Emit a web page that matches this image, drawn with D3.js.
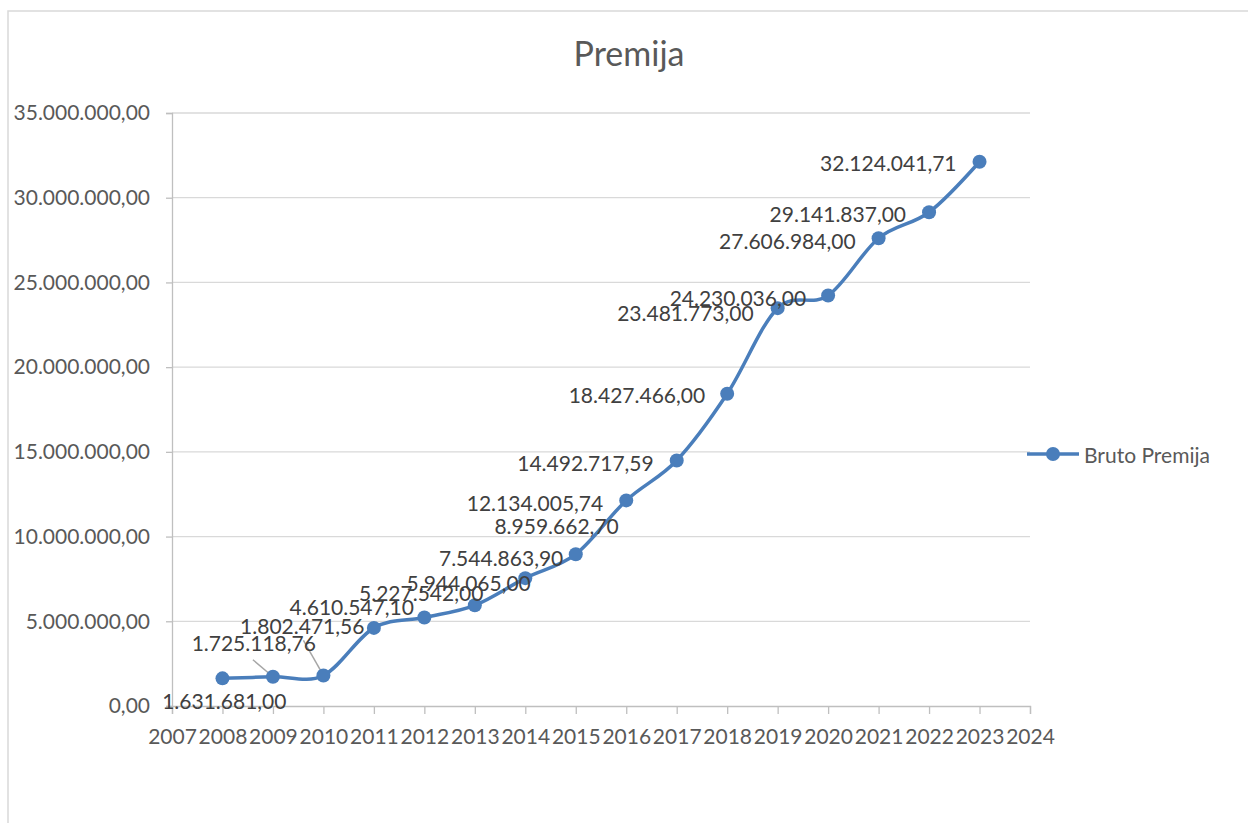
<!DOCTYPE html>
<html>
<head>
<meta charset="utf-8">
<script src="https://cdn.jsdelivr.net/npm/d3@7"></script>
<style>
  body { margin: 0; background: #fff; }
  text { font-family: Lato, "Open Sans", sans-serif; }
</style>
</head>
<body>
<div id="chart"></div>
<script>
// data
const years = [2008, 2009, 2010, 2011, 2012, 2013, 2014, 2015, 2016, 2017, 2018, 2019, 2020, 2021, 2022, 2023];
const premija = [1631681.00, 1725118.76, 1802471.56, 4610547.10, 5227542.00, 5944065.00, 7544863.90, 8959662.70,
  12134005.74, 14492717.59, 18427466.00, 23481773.00, 24230036.00, 27606984.00, 29141837.00, 32124041.71];
const yTicks = [0, 5000000, 10000000, 15000000, 20000000, 25000000, 30000000, 35000000];
const xTicks = d3.range(2007, 2025);
const seriesName = "Bruto Premija";
const title = "Premija";

// label placement (pixel offsets of the label's right end from its point)
const labelOffsets = [
  [64, 22], [43, -34], [41, -50], [40, -21], [59, -25], [56, -23], [38, -21], [43, -29],
  [-23, 2], [-23, 2], [-22, 1], [-24, 4], [-22, 2], [-23, 2], [-23, 1], [-23, 1]
];
// leader lines (start offset from point) for the two displaced labels
const leaders = { 1: [-20, -17], 2: [-20, -35] };

const W = 1248, H = 823;
const margin = { top: 113, right: 218, bottom: 117, left: 172 };
const width = W - margin.left - margin.right,
  height = H - margin.top - margin.bottom;
const blue = "#4a7ebb";
const fs = 21;

const fmt = (v) => {
  const s = v.toFixed(2).split(".");
  return s[0].replace(/\B(?=(\d{3})+(?!\d))/g, ".") + "," + s[1];
};

const svg = d3.select("#chart").append("svg")
  .attr("width", W).attr("height", H);

// chart frame
svg.append("path")
  .attr("d", `M8,823 L8,11 L1250,11`)
  .attr("fill", "none").attr("stroke", "#d9d9d9").attr("stroke-width", 1.5);

svg.append("text")
  .attr("x", 629).attr("y", 66)
  .attr("text-anchor", "middle")
  .attr("font-size", 34).attr("fill", "#595959")
  .text(title);

const g = svg.append("g").attr("transform", `translate(${margin.left},${margin.top})`);

const x = d3.scaleLinear().domain([2007, 2024]).range([0, width]);
const y = d3.scaleLinear().domain([0, 35000000]).range([height, 0]);

// gridlines
g.append("g").selectAll("line").data(yTicks.slice(1)).join("line")
  .attr("x1", 0).attr("x2", width)
  .attr("y1", (d) => y(d)).attr("y2", (d) => y(d))
  .attr("stroke", "#d9d9d9").attr("stroke-width", 1.3);

// y axis
const yAxis = g.append("g")
  .call(d3.axisLeft(y).tickValues(yTicks).tickSize(6).tickPadding(16).tickFormat(fmt));
yAxis.select(".domain").attr("stroke", "#bfbfbf").attr("stroke-width", 1.3);
yAxis.selectAll(".tick line").attr("stroke", "#bfbfbf").attr("stroke-width", 1.3);
yAxis.selectAll("text").attr("font-size", fs).attr("fill", "#595959")
  .attr("font-family", "Lato, sans-serif");

// x axis
const xAxis = g.append("g").attr("transform", `translate(0,${height})`)
  .call(d3.axisBottom(x).tickValues(xTicks).tickSize(8).tickPadding(15).tickFormat(d3.format("d")));
xAxis.select(".domain").attr("stroke", "#bfbfbf").attr("stroke-width", 1.3);
xAxis.selectAll(".tick line").attr("stroke", "#bfbfbf").attr("stroke-width", 1.3);
xAxis.selectAll("text").attr("font-size", fs).attr("fill", "#595959")
  .attr("font-family", "Lato, sans-serif");

const pts = years.map((yr, i) => ({ year: yr, value: premija[i], i }));

// smoothed line
g.append("path").datum(pts)
  .attr("fill", "none").attr("stroke", blue).attr("stroke-width", 3.5)
  .attr("stroke-linejoin", "round")
  .attr("d", d3.line().x((d) => x(d.year)).y((d) => y(d.value)).curve(d3.curveCatmullRom.alpha(0)));

// leader lines
g.append("g").selectAll("line").data(pts.filter((d) => leaders[d.i])).join("line")
  .attr("x1", (d) => x(d.year) + leaders[d.i][0])
  .attr("y1", (d) => y(d.value) + leaders[d.i][1])
  .attr("x2", (d) => x(d.year)).attr("y2", (d) => y(d.value))
  .attr("stroke", "#a6a6a6").attr("stroke-width", 1.5);

// markers
g.append("g").selectAll("circle").data(pts).join("circle")
  .attr("cx", (d) => x(d.year)).attr("cy", (d) => y(d.value))
  .attr("r", 7).attr("fill", blue);

// data labels
g.append("g").selectAll("text").data(pts).join("text")
  .attr("x", (d) => x(d.year) + labelOffsets[d.i][0])
  .attr("y", (d) => y(d.value) + labelOffsets[d.i][1])
  .attr("text-anchor", "end").attr("dominant-baseline", "central")
  .attr("font-size", fs).attr("fill", "#404040")
  .text((d) => fmt(d.value));

// legend
const lg = svg.append("g").attr("transform", "translate(1027,454)");
lg.append("line").attr("x1", 0).attr("x2", 52).attr("y1", 0).attr("y2", 0)
  .attr("stroke", blue).attr("stroke-width", 3.5);
lg.append("circle").attr("cx", 26).attr("cy", 0).attr("r", 7).attr("fill", blue);
lg.append("text").attr("x", 57).attr("y", 0).attr("dominant-baseline", "central")
  .attr("font-size", fs).attr("fill", "#595959").text(seriesName);
</script>
</body>
</html>
